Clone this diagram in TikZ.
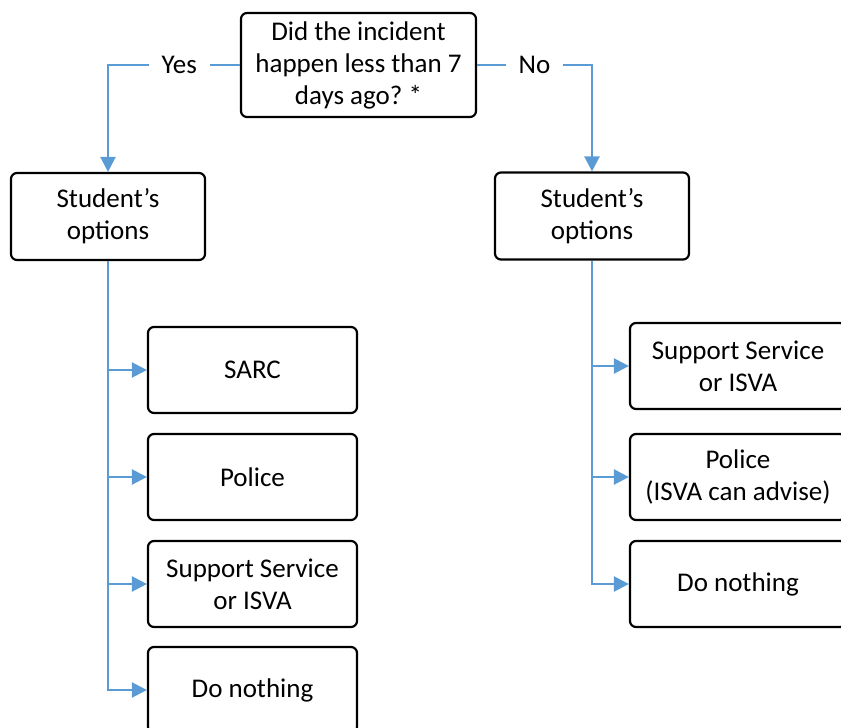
\documentclass[tikz,border=0pt]{standalone}
\usepackage{fontspec}
\setmainfont{Carlito}
\usetikzlibrary{arrows.meta}
\definecolor{azul}{RGB}{91,155,213}
\frenchspacing

\begin{document}
\begin{tikzpicture}[
    x=1pt,
    y=-1pt,
    font=\fontsize{27}{32}\selectfont,
    caja/.style={
        draw,
        line width=2.2pt,
        rounded corners=6pt,
        minimum width=209pt,
        minimum height=86pt,
        align=center,
        inner sep=0pt
    },
    pregunta/.style={
        caja,
        minimum width=235pt,
        minimum height=104pt
    },
    opciones/.style={
        caja,
        minimum width=194pt,
        minimum height=87pt
    },
    derecha/.style={
        caja,
        minimum width=216pt
    },
    ruta/.style={
        draw=azul,
        line width=2.4pt
    },
    flecha/.style={
        ruta,
        -{Triangle[length=15pt,width=15pt]}
    },
    etiqueta/.style={
        fill=white,
        inner xsep=13pt,
        inner ysep=2pt
    }
]
    \useasboundingbox (0,0) rectangle (841,728);

    \node[pregunta] (incidente) at (358.5,65)
        {Did the incident\\happen less than 7\\days ago? *};

    \node[opciones] (opciones-si) at (108,216.5)
        {Student’s\\options};
    \node[opciones] (opciones-no) at (592,216)
        {Student’s\\options};

    \node[caja] (sarc) at (252.5,370) {SARC};
    \node[caja] (policia-si) at (252.5,477) {Police};
    \node[caja] (apoyo-si) at (252.5,584)
        {Support Service\\or ISVA};
    \node[caja] (nada-si) at (252.5,690) {Do nothing};

    \node[derecha] (apoyo-no) at (738,366)
        {Support Service\\or ISVA};
    \node[derecha] (policia-no) at (738,477)
        {Police\\(ISVA can advise)};
    \node[derecha] (nada-no) at (738,584) {Do nothing};

    \draw[flecha] (incidente.west)
        -| node[etiqueta,pos=0.23] {Yes} (opciones-si.north);
    \draw[flecha] (incidente.east)
        -| node[etiqueta,pos=0.25] {No} (opciones-no.north);

    \draw[flecha] (opciones-si.south) |- (nada-si.west);
    \draw[flecha] (opciones-si.south |- sarc.west) -- (sarc.west);
    \draw[flecha] (opciones-si.south |- policia-si.west) -- (policia-si.west);
    \draw[flecha] (opciones-si.south |- apoyo-si.west) -- (apoyo-si.west);

    \draw[flecha] (opciones-no.south) |- (nada-no.west);
    \draw[flecha] (opciones-no.south |- apoyo-no.west) -- (apoyo-no.west);
    \draw[flecha] (opciones-no.south |- policia-no.west) -- (policia-no.west);
\end{tikzpicture}
\end{document}
